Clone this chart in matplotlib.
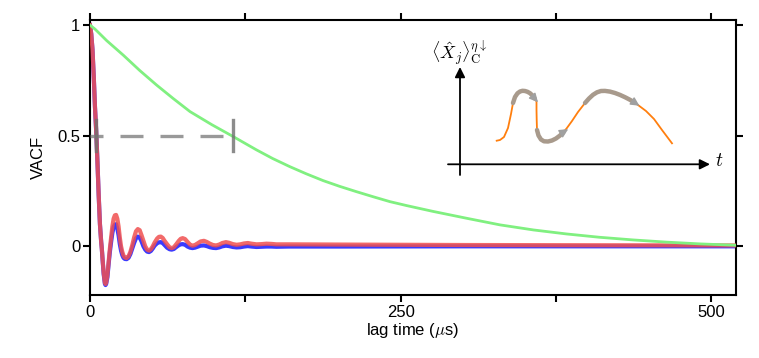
import numpy as np
import matplotlib
matplotlib.use("Agg")
import matplotlib.pyplot as plt

plt.rcParams["font.family"] = ["Liberation Sans", "DejaVu Sans"]
plt.rcParams["mathtext.fontset"] = "cm"

# ── data ─────────────────────────────────────────────────────────────────────
# fast oscillating VACF curves (lag time in µs)
t_osc = [0, 1, 2, 3, 4, 5, 6, 7, 8, 9, 9.5, 10, 11, 12, 12.5, 13, 14, 15, 16, 17,
         18, 19, 20, 21, 22, 23, 24, 25, 26, 27, 28, 29.5, 31, 32.5, 34, 35.5,
         37, 38.5, 40, 41.5, 43, 44.5, 46, 47.5, 49, 50.5, 52, 54, 55.5, 57,
         58.5, 60, 62, 64, 65.7, 67.5, 69.5, 71.5, 73, 74.6, 76.5, 78.5, 80.5,
         82.5, 84.5, 86.5, 89, 91.7, 94, 96.5, 99, 101.5, 104, 106.5, 109.4,
         112, 115, 118, 121, 124, 127, 130, 134, 138, 142, 146, 150, 160, 200,
         300, 400, 520]
vacf_red = [1.0, 0.96, 0.89, 0.77, 0.63, 0.52, 0.38, 0.23, 0.10, 0.02, -0.01,
            -0.05, -0.12, -0.165, -0.17, -0.165, -0.13, -0.07, -0.01, 0.04,
            0.09, 0.125, 0.14, 0.142, 0.125, 0.09, 0.04, 0.0, -0.025, -0.042,
            -0.05, -0.053, -0.045, -0.025, 0.005, 0.04, 0.068, 0.078, 0.073,
            0.05, 0.025, 0.0, -0.015, -0.019, -0.013, 0.0, 0.017, 0.035, 0.043,
            0.044, 0.038, 0.025, 0.01, -0.004, -0.008, -0.004, 0.01, 0.025,
            0.034, 0.037, 0.033, 0.02, 0.008, 0.003, 0.006, 0.013, 0.022,
            0.025, 0.02, 0.012, 0.006, 0.004, 0.008, 0.015, 0.019, 0.016, 0.01,
            0.007, 0.009, 0.013, 0.015, 0.012, 0.009, 0.01, 0.012, 0.011,
            0.009, 0.009, 0.008, 0.006, 0.005, 0.004]
vacf_blue = [1.0, 0.96, 0.89, 0.77, 0.63, 0.52, 0.38, 0.23, 0.10, 0.02, -0.01,
             -0.05, -0.125, -0.17, -0.175, -0.17, -0.14, -0.08, -0.025, 0.02,
             0.06, 0.088, 0.098, 0.1, 0.08, 0.05, 0.01, -0.02, -0.04, -0.052,
             -0.057, -0.058, -0.052, -0.035, -0.01, 0.015, 0.036, 0.044, 0.04,
             0.022, 0.0, -0.015, -0.024, -0.026, -0.021, -0.01, 0.003, 0.014,
             0.018, 0.019, 0.015, 0.006, -0.006, -0.013, -0.015, -0.012,
             -0.003, 0.005, 0.009, 0.01, 0.007, -0.001, -0.006, -0.008, -0.006,
             -0.002, 0.003, 0.004, 0.001, -0.004, -0.007, -0.008, -0.005, 0.0,
             0.003, 0.001, -0.003, -0.005, -0.004, -0.001, 0.001, -0.001,
             -0.003, -0.002, -0.001, -0.001, -0.002, -0.001, -0.001, 0.0, 0.0,
             0.0]

# slow decaying VACF
t_slow = [0, 4, 8, 13.4, 26.8, 40, 53.6, 67, 80.5, 98, 115.3, 134, 147, 160.9,
          174, 187.7, 201, 214.5, 228, 241.4, 255, 276, 303, 330, 357, 383.5,
          410, 437, 464, 491, 519]
vacf_green = [1.0, 0.982, 0.96, 0.93, 0.864, 0.795, 0.729, 0.668, 0.609, 0.55,
              0.496, 0.436, 0.397, 0.36, 0.328, 0.297, 0.271, 0.247, 0.224,
              0.202, 0.184, 0.158, 0.127, 0.097, 0.074, 0.056, 0.041, 0.029,
              0.019, 0.011, 0.005]

# half-height markers
half_level = 0.5
half_times = [4.8, 115]

x_ticks = [0, 125, 250, 375, 500]
x_labels = ["0", "", "250", "", "500"]
y_ticks = [0, 0.5, 1]
y_labels = ["0", "0.5", "1"]

# ── figure ───────────────────────────────────────────────────────────────────
W, H = 759, 358
fig = plt.figure(figsize=(W / 100, H / 100), dpi=100)
ax = fig.add_axes([90 / W, 1 - 295 / H, 646 / W, 275 / H])

ax.plot(t_osc, vacf_blue, color="#3a3aff", lw=3.0, zorder=2)
ax.plot(t_osc, vacf_red, color="#f05050", lw=3.0, alpha=0.85, zorder=3)
ax.plot(t_slow, vacf_green, color="#80f080", lw=2.0, zorder=4)

# dashed half-life bar with end caps
ax.plot([0, half_times[1]], [half_level, half_level], color="gray", lw=2.4,
        linestyle=(3, (6.9, 5.1)), alpha=0.8, zorder=5)
for th in half_times:
    ax.plot([th, th], [half_level - 0.071, half_level + 0.071],
            color="#707070", lw=2.4, alpha=0.8, zorder=5)

ax.set_xlim(0, 520)
ax.set_ylim(-0.22, 1.023)
ax.set_xticks(x_ticks)
ax.set_xticklabels(x_labels)
ax.set_yticks(y_ticks)
ax.set_yticklabels(y_labels)
ax.tick_params(direction="out", length=5, width=1.5, labelsize=12,
               top=True, right=True, pad=2)
for s in ax.spines.values():
    s.set_linewidth(1.5)
ax.set_xlabel(r"lag time ($\mu$s)", fontsize=12, labelpad=1)
ax.set_ylabel("VACF", fontsize=12, labelpad=8)

# ── inset schematic (units = pixels of the figure) ───────────────────────────
ins = fig.add_axes([430 / W, 1 - 185 / H, 300 / W, 150 / H])
ins.set_xlim(430, 730)
ins.set_ylim(185, 35)
ins.axis("off")
ins.patch.set_alpha(0)

ax_kw = dict(arrowstyle="-|>", color="black", lw=1.3, mutation_scale=15,
             shrinkA=0, shrinkB=0)
ins.annotate("", xy=(460, 67), xytext=(460, 175), arrowprops=ax_kw)
ins.annotate("", xy=(710, 164.3), xytext=(448, 164.3), arrowprops=ax_kw)
ins.text(459, 53, r"$\langle\hat{X}_j\rangle_{\mathrm{C}}^{\eta\downarrow}$",
         fontsize=13, ha="center", va="center")
ins.text(719, 162, r"$t$", fontsize=14, ha="center", va="center")

orange_x = [496.7, 500, 504, 508, 511, 513, 515, 517.5, 520, 522.5, 525,
            527.5, 530, 532.5, 534.5, 536.5,
            536.5, 536.7, 537, 538.5, 541, 544, 548, 552, 556, 560, 563.5,
            566.7, 572, 578, 585,
            589, 593, 597, 601, 605, 610, 615, 620, 625, 630, 634, 638,
            646, 654, 662, 672]
orange_y = [140.7, 140, 137, 128, 114, 103, 97, 93.3, 91.5, 90.8, 91,
            91.8, 93.2, 95.5, 98.3, 101.5,
            110, 120, 130, 135.5, 139.5, 141.3, 141.5, 140.5, 138.5, 135.5,
            132, 128.3, 121, 112, 103,
            98.5, 94.8, 92.3, 91, 90.9, 91.6, 93, 94.9, 97.2, 99.8, 102.2,
            105, 111, 119, 130, 143.3]
ins.plot(orange_x, orange_y, color="#ff7f0e", lw=1.3, zorder=2)

gray_segments = [(5, 15), (18, 27), (30, 42)]
for i0, i1 in gray_segments:
    ins.plot(orange_x[i0:i1], orange_y[i0:i1], color="#a89a8c",
             lw=3.2, solid_capstyle="round", zorder=3)
    ins.annotate("", xy=(orange_x[i1] + 1.5, orange_y[i1] + 0.8),
                 xytext=(orange_x[i1 - 1], orange_y[i1 - 1]),
                 arrowprops=dict(arrowstyle="-|>", color="#a0a0a0", lw=1,
                                 mutation_scale=13, shrinkA=0, shrinkB=0),
                 zorder=4)

fig.savefig("out.png", dpi=100)
